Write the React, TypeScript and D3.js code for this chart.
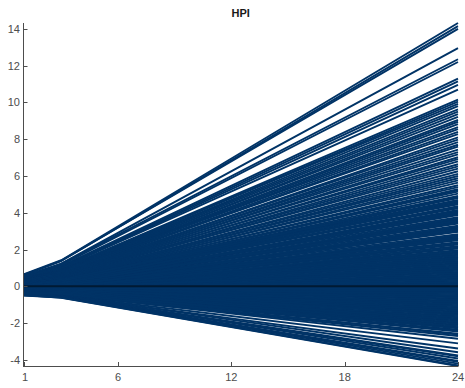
import React from 'react';
import * as d3 from 'd3';

const title = 'HPI';
const horizons = [1, 3, 24];
const xTicks = [1, 6, 12, 18, 24];
const yTicks = [-4, -2, 0, 2, 4, 6, 8, 10, 12, 14];

// value of each response path at horizon 1
const valueAt1 = [
  0.65, 0.62, 0.58, 0.55, 0.50, 0.56, 0.45, 0.52, 0.40, 0.47,
  0.38, 0.44, 0.35, 0.41, 0.30, 0.36, 0.42, 0.33, 0.28, 0.37,
  0.31, 0.25, 0.34, 0.29, 0.22, 0.30, 0.26, 0.20, 0.32, 0.24,
  0.18, 0.27, 0.21, 0.15, 0.25, 0.19, 0.13, 0.23, 0.16, 0.10,
  0.20, 0.14, 0.08, 0.17, 0.11, 0.05, 0.15, 0.09, 0.03, 0.12,
  0.06, 0.00, 0.10, 0.04, -0.02, 0.07, 0.01, -0.04, 0.05, -0.01,
  -0.06, 0.03, -0.03, -0.08, 0.01, -0.05, -0.10, -0.01, -0.07, -0.12,
  -0.03, -0.09, -0.14, -0.05, -0.11, -0.16, -0.07, -0.13, -0.18, -0.09,
  -0.15, -0.20, -0.11, -0.17, -0.22, -0.13, -0.19, -0.24, -0.15, -0.21,
  -0.26, -0.17, -0.23, -0.28, -0.19, -0.25, -0.30, -0.21, -0.27, -0.32,
  -0.23, -0.29, -0.34, -0.25, -0.31, -0.36, -0.27, -0.33, -0.38, -0.29,
  -0.35, -0.40, -0.31, -0.37, -0.42, -0.34, -0.39, -0.44, -0.36, -0.41,
  -0.46, -0.38, -0.43, -0.48, -0.40, -0.45, -0.50, -0.47,
  -0.10, -0.14, -0.12, -0.20, -0.16, -0.21, -0.18, -0.24, -0.20, -0.26,
  -0.23, -0.29, -0.26, -0.31, -0.28, -0.34, -0.31, -0.37, -0.34,
  0.02, -0.05, 0.00, -0.08, -0.03, 0.06, 0.00,
  -0.12, -0.08, -0.16, -0.13, -0.19, -0.15, -0.22, -0.18, -0.25, -0.21,
  -0.28, -0.24, -0.31, -0.27, -0.34, -0.30, -0.36, -0.33, -0.39,
  0.05, -0.02, 0.03, 0.00, -0.06, 0.02, -0.04, -0.09, -0.02, -0.07,
  -0.11, -0.08,
];

// value of each response path at horizon 3
const valueAt3 = [
  1.42, 1.38, 1.40, 1.24, 1.22, 1.15, 1.10, 1.05, 1.02, 1.00,
  0.95, 0.90, 0.96, 0.88, 0.90, 0.85, 0.80, 0.86, 0.82, 0.78,
  0.74, 0.80, 0.72, 0.70, 0.76, 0.66, 0.70, 0.64, 0.68, 0.60,
  0.66, 0.58, 0.62, 0.56, 0.60, 0.52, 0.56, 0.50, 0.54, 0.46,
  0.50, 0.44, 0.48, 0.40, 0.45, 0.38, 0.42, 0.35, 0.39, 0.32,
  0.36, 0.30, 0.33, 0.27, 0.31, 0.24, 0.28, 0.22, 0.25, 0.19,
  0.23, 0.16, 0.20, 0.14, 0.17, 0.11, 0.15, 0.08, 0.12, 0.06,
  0.09, 0.03, 0.07, 0.00, 0.04, -0.02, 0.01, -0.04, -0.01, -0.06,
  -0.03, -0.08, -0.05, -0.10, -0.07, -0.12, -0.09, -0.14, -0.11, -0.16,
  -0.13, -0.18, -0.15, -0.20, -0.17, -0.22, -0.19, -0.24, -0.21, -0.26,
  -0.23, -0.28, -0.25, -0.30, -0.27, -0.32, -0.34, -0.31, -0.36, -0.38,
  -0.35, -0.40, -0.42, -0.39, -0.44, -0.47, -0.45, -0.50, -0.52, -0.49,
  -0.54, -0.56, -0.53, -0.58, -0.60, -0.57, -0.61, -0.62,
  -0.03, 0.02, -0.06, -0.03, -0.10, -0.07, -0.13, -0.10, -0.18, -0.15,
  -0.22, -0.19, -0.26, -0.23, -0.30, -0.27, -0.34, -0.37, -0.38,
  0.18, 0.21, 0.10, 0.13, 0.02, 0.30, 0.34,
  0.05, -0.04, 0.00, -0.09, -0.05, -0.13, -0.08, -0.16, -0.12, -0.20,
  -0.16, -0.24, -0.20, -0.28, -0.25, -0.32, -0.29, -0.36, -0.41,
  0.36, 0.24, 0.29, 0.17, 0.22, 0.12, 0.18, 0.06, 0.11, 0.01,
  0.05, -0.05,
];

// value of each response path at horizon 24
const valueAt24 = [
  14.32, 14.15, 14.00, 12.95, 12.35, 12.20, 11.30, 11.15, 10.95, 10.70,
  10.15, 10.05, 9.92, 9.80, 9.62, 9.50, 9.36, 9.22, 9.05, 8.95,
  8.82, 8.66, 8.55, 8.40, 8.28, 8.10, 7.98, 7.84, 7.70, 7.60,
  7.44, 7.30, 7.18, 7.02, 6.92, 6.80, 6.64, 6.52, 6.40, 6.26,
  6.12, 6.00, 5.88, 5.76, 5.64, 5.50, 5.40, 5.28, 5.15, 5.04,
  4.92, 4.80, 4.70, 4.58, 4.46, 4.36, 4.24, 4.10, 3.98, 3.88,
  3.76, 3.64, 3.52, 3.42, 3.30, 3.18, 3.06, 2.96, 2.84, 2.72,
  2.62, 2.50, 2.40, 2.28, 2.18, 2.06, 1.96, 1.84, 1.72, 1.60,
  1.50, 1.38, 1.26, 1.14, 1.02, 0.90, 0.78, 0.66, 0.54, 0.42,
  0.30, 0.18, 0.06, -0.06, -0.18, -0.30, -0.42, -0.54, -0.66, -0.78,
  -0.90, -1.02, -1.14, -1.26, -1.38, -1.50, -1.62, -1.74, -1.86, -1.98,
  -2.10, -2.22, -2.36, -2.46, -2.58, -2.70, -2.85, -3.10, -3.38, -3.58,
  -3.75, -3.80, -3.92, -4.05, -4.10, -4.20, -4.30, -4.33,
  1.90, 1.66, 1.44, 1.20, 0.96, 0.72, 0.48, 0.24, 0.00, -0.24,
  -0.48, -0.72, -0.96, -1.20, -1.44, -1.68, -1.92, -2.16, -2.40,
  4.04, 3.58, 3.12, 2.66, 2.34, 5.22, 4.64,
  1.78, 1.54, 1.32, 1.08, 0.84, 0.60, 0.36, 0.12, -0.12, -0.36,
  -0.60, -0.84, -1.08, -1.32, -1.56, -1.80, -2.04, -2.28, -2.62,
  4.86, 4.52, 4.30, 4.16, 3.94, 3.70, 3.46, 3.24, 3.00, 2.78,
  2.56, 2.12,
];

const W = 465;
const H = 388;
const LINE = '#003366';
const AXIS = '#4d4d4d';

export default function App() {
  const x = d3.scaleLinear().domain([1, 24]).range([23.5, 458]);
  const y = d3.scaleLinear().domain([-4.33, 14.32]).range([366, 23]);
  const line = d3
    .line<[number, number]>()
    .x((d) => x(d[0]))
    .y((d) => y(d[1]));

  const paths = valueAt24.map((_, i) => {
    const vals = [valueAt1[i], valueAt3[i], valueAt24[i]];
    return line(horizons.map((h, k) => [h, vals[k]] as [number, number])) || '';
  });

  const zero = line([[1, 0], [24, 0]]) || '';
  const font = '"Liberation Sans", Arial, Helvetica, sans-serif';

  return (
    <svg
      width={W}
      height={H}
      style={{ position: 'absolute', left: 0, top: 0, background: '#fff' }}
    >
      <g fill="none" stroke={LINE} strokeWidth={1.9} strokeLinejoin="round">
        {paths.map((d, i) => (
          <path key={i} d={d} />
        ))}
      </g>
      <path d={zero} stroke="#001a33" strokeWidth={2} fill="none" />

      {/* axes */}
      <line x1={23.5} x2={23.5} y1={23} y2={366.5} stroke={AXIS} strokeWidth={1} />
      <line x1={23} x2={458.5} y1={366.5} y2={366.5} stroke={AXIS} strokeWidth={1} />

      {yTicks.map((t) => (
        <g key={'y' + t}>
          <line x1={23.5} x2={27.5} y1={Math.round(y(t)) + 0.5} y2={Math.round(y(t)) + 0.5} stroke={AXIS} />
          <text
            x={20}
            y={y(t) + 4}
            textAnchor="end"
            fontFamily={font}
            fontSize={11}
            fill={AXIS}
          >
            {t}
          </text>
        </g>
      ))}
      {xTicks.map((t) => (
        <g key={'x' + t}>
          <line x1={Math.round(x(t)) + 0.5} x2={Math.round(x(t)) + 0.5} y1={366} y2={362} stroke={AXIS} />
          <text
            x={x(t) + (t === 1 ? 1.5 : 0)}
            y={381}
            textAnchor="middle"
            fontFamily={font}
            fontSize={11}
            fill={AXIS}
          >
            {t}
          </text>
        </g>
      ))}

      <text
        x={(x(1) + x(24)) / 2}
        y={17}
        textAnchor="middle"
        fontFamily={font}
        fontSize={11}
        fontWeight="bold"
        fill="#1a1a1a"
      >
        {title}
      </text>
    </svg>
  );
}
